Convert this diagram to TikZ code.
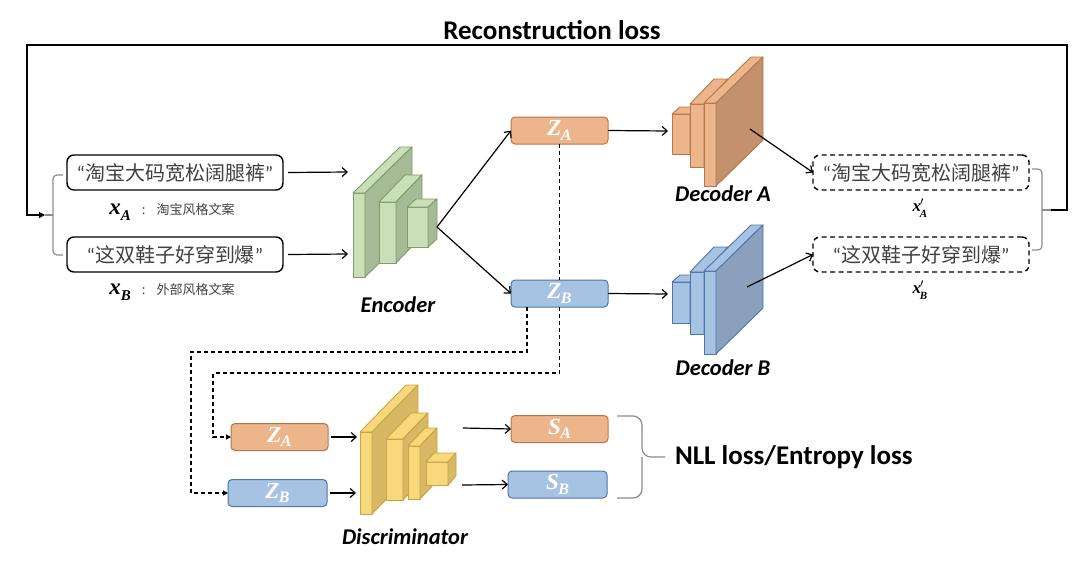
\documentclass[tikz,border=0pt]{standalone}
\usepackage{fontspec}
\setmainfont{Carlito}
\newfontfamily\cjk{Noto Sans CJK SC}
\newfontfamily\mf{Liberation Serif}
\usetikzlibrary{arrows.meta}
\definecolor{gfront}{HTML}{CADFB8}
\definecolor{gside}{HTML}{A6BA95}
\definecolor{gedge}{HTML}{7E9C66}
\definecolor{ofront}{HTML}{EDB58B}
\definecolor{oside}{HTML}{C3916E}
\definecolor{oedge}{HTML}{B5764A}
\definecolor{bfront}{HTML}{A7C3E3}
\definecolor{bside}{HTML}{8AA0BC}
\definecolor{bedge}{HTML}{4F74A6}
\definecolor{yfront}{HTML}{F8D87C}
\definecolor{yside}{HTML}{D6B865}
\definecolor{yedge}{HTML}{C9A441}
\definecolor{txtgray}{HTML}{404040}
\definecolor{brgray}{HTML}{8C8C8C}
% x y1 y2 w dx dy front side edge
\newcommand{\cubeslab}[9]{%
  \filldraw[fill=#7,draw=#9,line width=0.9pt,line join=round] (#1,#2) rectangle ({#1+#4},#3);
  \filldraw[fill=#7,draw=#9,line width=0.9pt,line join=round] (#1,#2) -- ({#1+#4},#2) -- ({#1+#4+#5},{#2-#6}) -- ({#1+#5},{#2-#6}) -- cycle;
  \filldraw[fill=#8,draw=#9,line width=0.9pt,line join=round] ({#1+#4},#2) -- ({#1+#4+#5},{#2-#6}) -- ({#1+#4+#5},{#3-#6}) -- ({#1+#4},#3) -- cycle;
}
\newcommand{\zlab}[2]{{\fontsize{23}{23}\selectfont\mf\bfseries\itshape\color{white}#1\kern-0.5pt\raisebox{-4.5pt}{\fontsize{16}{16}\selectfont #2}}}
\newcommand{\xvar}[4]{{\fontsize{#3}{#3}\selectfont\mf\bfseries\itshape x#1\raisebox{-0.3em}{\fontsize{#4}{#4}\selectfont #2}}}
\newcommand{\qtext}[1]{{\fontsize{20}{20}\selectfont\color{txtgray}“{\cjk #1}”}}
\tikzset{
  every node/.style={inner sep=0pt, outer sep=0pt},
  txtbox/.style={draw=black, line width=1.4pt, rounded corners=7pt, minimum width=216pt, minimum height=35pt},
  dtxtbox/.style={txtbox, dash pattern=on 5pt off 3.5pt},
  zbox/.style={draw=#1edge, fill=#1front, line width=1pt, rounded corners=4pt, minimum width=97pt, minimum height=27pt},
  arr/.style={line width=1.2pt, -{Straight Barb[length=5pt,width=9pt]}},
  darr/.style={line width=1.1pt, dash pattern=on 4pt off 3pt, -{Triangle[length=5pt,width=5pt]}},
  dline/.style={line width=1.1pt, dash pattern=on 4pt off 3pt},
  brk/.style={draw=brgray, line width=1.2pt},
  lbl/.style={font=\fontsize{22.5}{22.5}\selectfont\bfseries\itshape},
  big/.style={font=\fontsize{27}{27}\selectfont\bfseries},
}
\begin{document}
\begin{tikzpicture}[x=1pt,y=-1pt]
\useasboundingbox (0,0) rectangle (1080,563);
% ---------- Encoder ----------
\cubeslab{353}{193}{277}{12}{47}{46}{gfront}{gside}{gedge}
\cubeslab{379}{202}{263}{17}{26}{27}{gfront}{gside}{gedge}
\cubeslab{407}{207}{247}{21}{9}{8}{gfront}{gside}{gedge}
\coordinate (encin1) at (348,172);
\coordinate (encin2) at (348,254);
\coordinate (encout) at (437,227);
\node[lbl] (enc) at (398,305) {Encoder};
% ---------- Decoder A ----------
\cubeslab{672}{114}{154}{18}{8}{7}{ofront}{oside}{oedge}
\cubeslab{690}{104}{167}{14}{24}{25}{ofront}{oside}{oedge}
\cubeslab{704}{103}{186}{12}{47}{46}{ofront}{oside}{oedge}
\coordinate (decAin) at (668,131);
\coordinate (decAout) at (750,129);
\node[lbl] (decA) at (723,194) {Decoder A};
% ---------- Decoder B ----------
\cubeslab{672}{282}{323}{18}{8}{7}{bfront}{bside}{bedge}
\cubeslab{690}{272}{334}{14}{24}{25}{bfront}{bside}{bedge}
\cubeslab{704}{271}{354}{12}{47}{46}{bfront}{bside}{bedge}
\coordinate (decBin) at (668,294);
\coordinate (decBout) at (747,287);
\node[lbl] (decB) at (723,368) {Decoder B};
% ---------- Discriminator ----------
\cubeslab{360}{432}{514}{12}{46}{47}{yfront}{yside}{yedge}
\cubeslab{386}{439}{500}{17}{25}{26}{yfront}{yside}{yedge}
\cubeslab{408}{446}{499}{12}{17}{18}{yfront}{yside}{yedge}
\cubeslab{426}{462}{485}{22}{8}{9}{yfront}{yside}{yedge}
\coordinate (disin1) at (357,437);
\coordinate (disin2) at (356,493);
\coordinate (disout1) at (463,428);
\coordinate (disout2) at (462,485);
\node[lbl] (dis) at (405,537) {Discriminator};
% ---------- text boxes ----------
\node[txtbox] (XA) at (175,172.5) {\qtext{淘宝大码宽松阔腿裤}};
\node[txtbox] (XB) at (175,254.5) {\qtext{这双鞋子好穿到爆}};
\node (xal) at (172,212) {\xvar{}{A}{23}{15}{\cjk\fontsize{13}{13}\selectfont\color{txtgray}\hspace{11pt}:\hspace{11pt}淘宝风格文案}};
\node (xbl) at (172,292) {\xvar{}{B}{23}{15}{\cjk\fontsize{13}{13}\selectfont\color{txtgray}\hspace{11pt}:\hspace{11pt}外部风格文案}};
\node[dtxtbox] (XA2) at (921,172.5) {\qtext{淘宝大码宽松阔腿裤}};
\node[dtxtbox] (XB2) at (921,254.5) {\qtext{这双鞋子好穿到爆}};
\node (xa2l) at (920,208) {\xvar{\kern-1pt$'$\kern-4pt}{A}{17}{11}};
\node (xb2l) at (920,290) {\xvar{\kern-1pt$'$\kern-4pt}{B}{17}{11}};
% ---------- Z and S boxes ----------
\node[zbox=o] (ZA) at (559.5,130.5) {\zlab{Z}{A}};
\node[zbox=b] (ZB) at (559.5,293.5) {\zlab{Z}{B}};
\node[zbox=o] (ZA2) at (279.5,437) {\zlab{Z}{A}};
\node[zbox=b,minimum width=99pt] (ZB2) at (277.5,493) {\zlab{Z}{B}};
\node[zbox=o] (SA) at (559.5,429) {\zlab{S}{A}};
\node[zbox=b,minimum width=99pt] (SB) at (557.5,484.5) {\zlab{S}{B}};
% ---------- titles ----------
\node[big] (rec) at (552,30) {Reconstruction loss};
\node[big, anchor=west] (nll) at (675,457) {NLL loss/Entropy loss};
% ---------- connectors ----------
\draw[arr] (XA.east) ++(5,0) -- (encin1);
\draw[arr] (XB.east) ++(5,0) -- (encin2);
\draw[arr] (encout) -- (ZA.west);
\draw[arr] (encout) -- (ZB.west);
\draw[arr] (ZA.east) -- (decAin);
\draw[arr] (ZB.east) -- (decBin);
\draw[arr] (decAout) -- (XA2.west);
\draw[arr] (decBout) -- (XB2.west);
\draw[arr] (ZA2.east) ++(3,0) -- (disin1);
\draw[arr] (ZB2.east) ++(3,0) -- (disin2);
\draw[arr] (disout1) -- (SA.west);
\draw[arr] (disout2) -- (SB.west);
% dashed
\draw[dline] (ZA.south) -- (ZB.north);
\draw[darr] (ZB.south) -- (559.5,373) -- (213,373) |- (ZA2.west);
\coordinate (zbs) at (527,307);
\draw[darr] (zbs) -- (527,352) -- (191,352) |- (ZB2.west);
% brackets
\coordinate (lbt) at (45,215);
\coordinate (rbt) at (1051,210);
\draw[brk, rounded corners=4pt] (63,175) -- (53,175) -- (53,255) -- (63,255);
\draw[brk] (53,215) -- (lbt);
\draw[brk, rounded corners=4pt] (1032,169) -- (1042,169) -- (1042,250) -- (1032,250);
\draw[brk] (1042,210) -- (rbt);
\draw[line width=1.3pt, -{Triangle[length=6pt,width=6pt]}] (rbt) -- (1067,210) -- (1067,45) -- (27,45) -- (27,215) -- (lbt);
\draw[brk, rounded corners=9pt] (617,416) -- (642,416) -- (642,457) -- (665,457);
\draw[brk, rounded corners=9pt] (617,498) -- (642,498) -- (642,457);
\end{tikzpicture}
\end{document}
